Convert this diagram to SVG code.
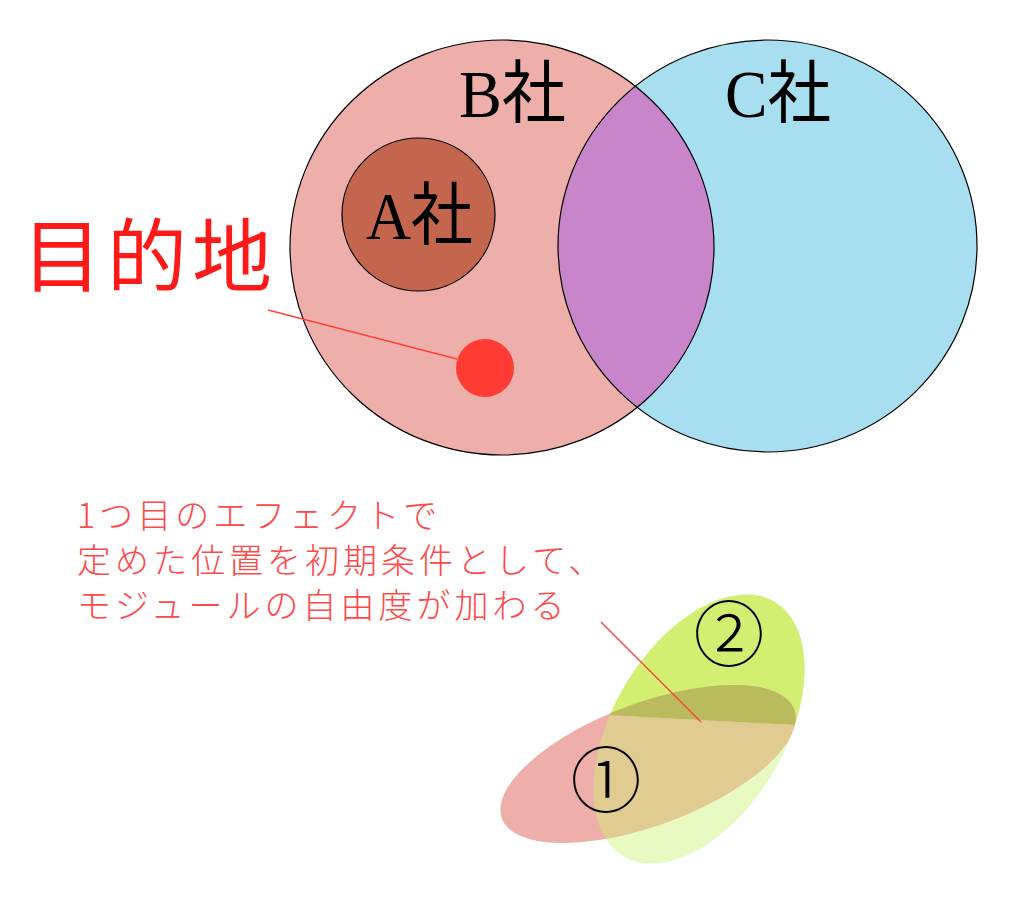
<svg xmlns="http://www.w3.org/2000/svg" xmlns:xlink="http://www.w3.org/1999/xlink" width="1024" height="910" viewBox="0 0 1024 910">
<style>
.outline{fill:none;stroke:#000;stroke-width:1.2}
.lbl{font-family:"Liberation Serif","Noto Sans CJK JP",serif;fill:#000;font-size:68px}
.cjk{font-family:"Noto Sans CJK JP",sans-serif}
.red{fill:#ff1a1a}
.note{font-family:"Noto Sans CJK JP",sans-serif;font-size:34px;fill:#ff4a4a;font-weight:300;letter-spacing:4px}
.num{font-family:"Noto Sans CJK JP",sans-serif;font-size:71px;font-weight:300;fill:#000}
.lead{stroke:#ff4030;stroke-width:1.3;fill:none}
</style>
<defs>
<ellipse id="bCirc" cx="502" cy="247.5" rx="212" ry="207.5"/>
<ellipse id="cCirc" cx="767.5" cy="246" rx="209.5" ry="206"/>
<ellipse id="pinkE" cx="648" cy="764" rx="156" ry="61" transform="rotate(-20.5 648 764)"/>
<ellipse id="greenE" cx="699" cy="729" rx="148" ry="86" transform="rotate(-59.3 699 729)"/>
<clipPath id="clipB"><use xlink:href="#bCirc"/></clipPath>
<clipPath id="clipPink"><use xlink:href="#pinkE"/></clipPath>
<clipPath id="clipUpper"><polygon points="400,0 1000,0 1000,736 400,704"/></clipPath>
<clipPath id="clipLower"><polygon points="400,704 1000,736 1000,910 400,910"/></clipPath>
</defs>
<rect width="1024" height="910" fill="#fff"/>

<g id="companyB">
<use xlink:href="#bCirc" fill="#eeafab"/>
</g>
<g id="companyC">
<use xlink:href="#cCirc" fill="#a7def0"/>
</g>
<g id="overlapBC" clip-path="url(#clipB)">
<use xlink:href="#cCirc" fill="#c985c9"/>
</g>
<g id="outlinesBC">
<use xlink:href="#bCirc" class="outline"/>
<use xlink:href="#cCirc" class="outline"/>
</g>
<g id="labelB">
<text class="lbl" x="459" y="117" textLength="107" lengthAdjust="spacingAndGlyphs">B社</text>
</g>
<g id="labelC">
<text class="lbl" x="725" y="117" textLength="106" lengthAdjust="spacingAndGlyphs">C社</text>
</g>
<g id="companyA">
<circle cx="418.5" cy="214.5" r="76.5" fill="#c4654e" stroke="#000" stroke-width="1.2"/>
<text class="lbl" x="366" y="239" textLength="107" lengthAdjust="spacingAndGlyphs">A社</text>
</g>
<g id="destination">
<circle cx="485" cy="368" r="29" fill="#ff3b33"/>
<text class="cjk red" x="22" y="285" font-size="80" letter-spacing="5">目的地</text>
</g>

<g id="ellipse2">
<use xlink:href="#greenE" fill="#d3ef71" clip-path="url(#clipUpper)"/>
<use xlink:href="#greenE" fill="#e9f9c2" clip-path="url(#clipLower)"/>
</g>
<g id="ellipse1">
<use xlink:href="#pinkE" fill="#eeafab"/>
</g>
<g id="overlap12" clip-path="url(#clipPink)">
<use xlink:href="#greenE" fill="#b9bb5d" clip-path="url(#clipUpper)"/>
<use xlink:href="#greenE" fill="#e0cc90" clip-path="url(#clipLower)"/>
</g>
<g id="label1">
<text class="num" x="606" y="806" text-anchor="middle">①</text>
</g>
<g id="label2">
<text class="num" x="729" y="660" text-anchor="middle">②</text>
</g>

<g id="note">
<text class="note" x="77" y="528">1つ目のエフェクトで</text>
<text class="note" x="77" y="573">定めた位置を初期条件として、</text>
<text class="note" x="77" y="618">モジュールの自由度が加わる</text>
</g>

<g id="connectors">
<line class="lead" x1="268" y1="310" x2="457" y2="359"/>
<line class="lead" x1="601" y1="622" x2="701" y2="722"/>
</g>
</svg>
